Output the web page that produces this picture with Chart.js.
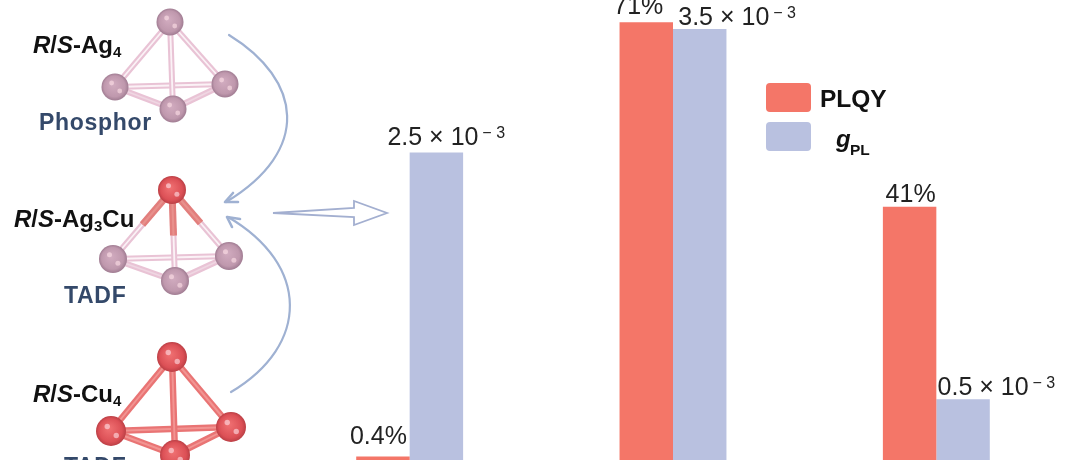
<!DOCTYPE html>
<html><head><meta charset="utf-8">
<style>html,body{margin:0;padding:0;background:#fff;overflow:hidden}canvas{display:block;filter:blur(0.45px)}</style>
<script src="https://cdn.jsdelivr.net/npm/chart.js@4"></script>
</head><body>
<canvas id="c" width="1080" height="460" style="width:1080px;height:460px"></canvas>
<script>
const categories = ['R/S-Ag4', 'R/S-Ag3Cu', 'R/S-Cu4'];
const plqyValues = [0.4, 71, 41];
const gplValues = [2.5, 3.5, 0.5];
const plqyLabels = ['0.4%', '71%', '41%'];
const gplLabels = ['2.5', '3.5', '0.5'];

const RED = '#f47668', BLUE = '#b9c1e0', INK = '#222222', NAVY = '#34496a', ARROW = '#9fb1d2';
const SANS = '"Liberation Sans", Arial, sans-serif';

function rich(ctx, x, y, runs, color) {
  ctx.fillStyle = color; ctx.textAlign = 'left'; ctx.textBaseline = 'alphabetic';
  for (const r of runs) {
    ctx.font = r.f + ' ' + SANS;
    ctx.fillText(r.t, x, y - (r.up || 0));
    x += ctx.measureText(r.t).width;
  }
}
function formula(ctx, x, y, tail) {
  const B = 'bold 24px', I = 'italic bold 24px';
  rich(ctx, x, y, [{t:'R',f:I},{t:'/',f:B},{t:'S',f:I},{t:'-',f:B}].concat(tail), '#111111');
}
function tube(ctx, a, b, outer, inner, w) {
  ctx.lineCap = 'butt';
  ctx.strokeStyle = outer; ctx.lineWidth = w;
  ctx.beginPath(); ctx.moveTo(a[0], a[1]); ctx.lineTo(b[0], b[1]); ctx.stroke();
  ctx.strokeStyle = inner; ctx.lineWidth = w * 0.3;
  ctx.beginPath(); ctx.moveTo(a[0], a[1]); ctx.lineTo(b[0], b[1]); ctx.stroke();
}
function ball(ctx, p, r, c0, c1, c2) {
  const g = ctx.createRadialGradient(p[0] - r*0.15, p[1] - r*0.2, r*0.1, p[0], p[1], r);
  g.addColorStop(0, c0); g.addColorStop(0.75, c1); g.addColorStop(1, c2);
  ctx.fillStyle = g;
  ctx.beginPath(); ctx.arc(p[0], p[1], r, 0, Math.PI*2); ctx.fill();
  ctx.fillStyle = 'rgba(255,225,232,0.6)';
  ctx.beginPath(); ctx.arc(p[0] - r*0.25, p[1] - r*0.3, r*0.18, 0, Math.PI*2); ctx.fill();
  ctx.beginPath(); ctx.arc(p[0] + r*0.35, p[1] + r*0.3, r*0.18, 0, Math.PI*2); ctx.fill();
}
const mid = (a, b, t) => [a[0] + (b[0]-a[0])*t, a[1] + (b[1]-a[1])*t];
const PINK = ['#d0aabe', '#bf98ad', '#a07c92'], CRED = ['#ee6e70', '#dc5056', '#bb3f45'];

function molecule(ctx, pts, r, kind) {
  const [t, l, rt, b] = pts;
  const pk = ['#e9c3d5', '#fbf2f6'], rd = ['#e97474', '#f29492'];
  const main = kind === 'cu' ? rd : pk;
  const w = kind === 'cu' ? 6.5 : 6;
  tube(ctx, l, rt, main[0], main[1], w);
  tube(ctx, l, b, main[0], kind === 'cu' ? main[1] : '#efd6e2', w);
  tube(ctx, rt, b, main[0], kind === 'cu' ? main[1] : '#efd6e2', w);
  for (const p of [l, rt, b]) {
    if (kind === 'mix') {
      tube(ctx, t, p, pk[0], pk[1], w);
      tube(ctx, t, mid(t, p, 0.5), '#e27e7c', '#e8908c', w + 1);
    } else {
      tube(ctx, t, p, main[0], main[1], w);
    }
  }
  for (const p of [l, rt, b]) ball(ctx, p, r, kind === 'cu' ? CRED[0] : PINK[0], kind === 'cu' ? CRED[1] : PINK[1], kind === 'cu' ? CRED[2] : PINK[2]);
  if (kind === 'cu' || kind === 'mix') ball(ctx, t, r, CRED[0], CRED[1], CRED[2]);
  else ball(ctx, t, r, PINK[0], PINK[1], PINK[2]);
}

const scenery = {
  id: 'scenery',
  afterDraw(chart) {
    const ctx = chart.ctx;
    ctx.save();
    // molecules
    molecule(ctx, [[170,22],[115,87],[225,84],[173,109]], 13.5, 'ag');
    molecule(ctx, [[172,190],[113,259],[229,256],[175,281]], 14, 'mix');
    molecule(ctx, [[172,357],[111,431],[231,427],[175,455]], 15, 'cu');
    // curved arrows
    ctx.strokeStyle = ARROW; ctx.lineWidth = 2.2; ctx.lineCap = 'round'; ctx.lineJoin = 'round';
    ctx.beginPath(); ctx.moveTo(229,35); ctx.bezierCurveTo(302,80,312,150,226,202); ctx.stroke();
    ctx.beginPath(); ctx.moveTo(231,392); ctx.bezierCurveTo(310,345,310,265,228,217); ctx.stroke();
    ctx.lineWidth = 2.6;
    ctx.beginPath(); ctx.moveTo(233,193); ctx.lineTo(225,202); ctx.lineTo(238,202); ctx.stroke();
    ctx.beginPath(); ctx.moveTo(240,219); ctx.lineTo(227,217); ctx.lineTo(232,227); ctx.stroke();
    // hollow arrow
    ctx.strokeStyle = '#a3afd0'; ctx.lineWidth = 1.8; ctx.lineJoin = 'miter';
    ctx.beginPath();
    [[273,213],[354,208],[354,201],[387,213],[354,225],[354,217]].forEach((p,i)=> i ? ctx.lineTo(p[0],p[1]) : ctx.moveTo(p[0],p[1]));
    ctx.closePath(); ctx.stroke();
    // molecule names
    const B = 'bold 23px', F = 'bold 24px', S = 'bold 15px';
    formula(ctx, 33, 53, [{t:'Ag',f:F},{t:'4',f:S,up:-4}]);
    formula(ctx, 14, 227, [{t:'Ag',f:F},{t:'3',f:S,up:-4},{t:'Cu',f:F}]);
    formula(ctx, 33, 402, [{t:'Cu',f:F},{t:'4',f:S,up:-4}]);
    ctx.letterSpacing = '0.7px';
    rich(ctx, 39, 130, [{t:'Phosphor',f:B}], NAVY);
    rich(ctx, 64, 303, [{t:'TADF',f:B}], NAVY);
    rich(ctx, 64, 474, [{t:'TADF',f:B}], NAVY);
    ctx.letterSpacing = '0px';
    // legend
    const swatch = (y, c) => { ctx.fillStyle = c; ctx.beginPath(); ctx.roundRect(766, y, 45, 29, 4); ctx.fill(); };
    swatch(83, RED); swatch(122, BLUE);
    rich(ctx, 820, 107, [{t:'PLQY',f:'bold 24.5px'}], '#111111');
    rich(ctx, 836, 147, [{t:'g',f:'italic bold 24px'}], '#111111');
    rich(ctx, 850, 155, [{t:'PL',f:'bold 15.5px'}], '#111111');
    // value labels, hung from the bars the library placed
    const shiftP = [[-4.5,13],[-8,8.5],[1,4.5]], shiftG = [[-49,7.5],[-21.5,4],[-25.5,4]];
    const NUM = '25px', EXP = '16px';
    chart.getDatasetMeta(0).data.forEach((bar, i) => {
      ctx.font = NUM + ' ' + SANS;
      const w = ctx.measureText(plqyLabels[i]).width;
      rich(ctx, bar.x + shiftP[i][0] - w/2, bar.y - shiftP[i][1], [{t:plqyLabels[i],f:NUM}], INK);
    });
    chart.getDatasetMeta(1).data.forEach((bar, i) => {
      rich(ctx, bar.x + shiftG[i][0], bar.y - shiftG[i][1], [
        {t:gplLabels[i] + ' \u00d7 10',f:NUM},
        {t:' ',f:'14px'},
        {t:'\u2212 3',f:EXP,up:7}
      ], INK);
    });
    ctx.restore();
  }
};

new Chart(document.getElementById('c'), {
  type: 'bar',
  data: {
    labels: categories,
    datasets: [
      { label: 'PLQY', data: plqyValues, backgroundColor: RED, yAxisID: 'y', base: -0.163 },
      { label: 'gPL', data: gplValues, backgroundColor: BLUE, yAxisID: 'y1' }
    ]
  },
  options: {
    responsive: false,
    animation: false,
    devicePixelRatio: 1,
    layout: { padding: { left: 278, right: 12, top: 0, bottom: 0 } },
    datasets: { bar: { barPercentage: 1, categoryPercentage: 0.406, borderWidth: 0 } },
    plugins: { legend: { display: false }, tooltip: { enabled: false } },
    scales: {
      x: { display: false },
      y: { display: false, min: -0.163, max: 74.63 },
      y1: { display: false, min: 0.0081, max: 3.7358 }
    }
  },
  plugins: [scenery]
});
</script>
</body></html>
